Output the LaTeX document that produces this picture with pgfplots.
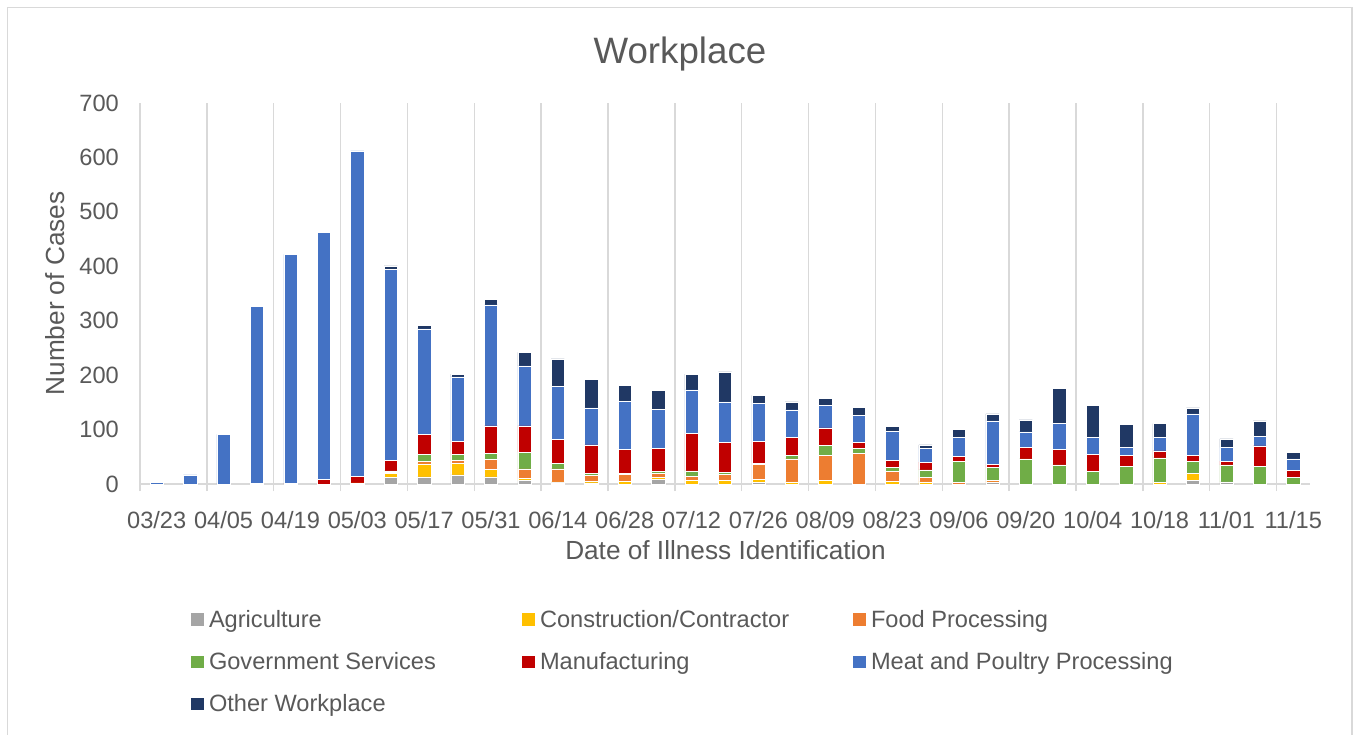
\documentclass[border=0pt]{standalone}
\usepackage{pgfplots}
\pgfplotsset{compat=1.18}
\usepackage{pgfplotstable}
\usepackage{fontspec}
\setmainfont{Liberation Sans}
\definecolor{txt}{HTML}{595959}
\definecolor{grd}{HTML}{D9D9D9}
\definecolor{cAgri}{HTML}{A5A5A5}
\definecolor{cCons}{HTML}{FFC000}
\definecolor{cFood}{HTML}{ED7D31}
\definecolor{cGov}{HTML}{70AD47}
\definecolor{cMfg}{HTML}{C00000}
\definecolor{cMeat}{HTML}{4472C4}
\definecolor{cOther}{HTML}{203864}
\pgfplotstableread{
x agri constr food gov mfg meat other
0 0 0 0 0 0 3 0
1 0 0 0 0 0 17 0
2 0 0 0 0 0 91 0
3 0 0 0 0 1 325 0
4 0 0 0 0 1 421 0
5 0 0 0 0 8 454 0
6 0 2 0 0 12 598 0
7 12 7 2 3 19 351 7
8 13 24 4 13 37 194 7
9 17 21 6 10 25 118 5
10 13 14 18 11 51 222 10
11 6 4 18 30 49 110 25
12 2 2 24 10 44 97 51
13 2 3 11 4 52 68 52
14 0 5 13 2 43 89 29
15 9 3 7 4 42 72 35
16 0 7 7 10 69 80 29
17 0 6 12 4 54 75 55
18 3 6 27 2 40 70 15
19 0 4 42 6 34 50 15
20 0 7 46 18 32 42 13
21 0 0 56 9 12 49 15
22 0 5 18 7 13 54 9
23 0 4 8 14 14 26 6
24 0 0 3 38 10 35 15
25 3 1 2 24 6 80 13
26 0 0 0 46 21 29 22
27 0 0 0 35 29 48 64
28 0 0 0 23 31 32 59
29 0 0 0 32 21 15 42
30 0 3 0 45 13 25 25
31 6 13 0 23 11 76 11
32 4 0 0 31 7 26 15
33 0 0 0 33 37 17 29
34 0 0 0 12 13 21 12
}\data
\newcommand{\lgd}[1]{\makebox[313pt][l]{\rule[-5pt]{0pt}{22pt}#1}}
\begin{document}
\begin{tikzpicture}[x=1pt,y=1pt]
\useasboundingbox (0,0) rectangle (1354,-734);
\fill[white] (0,0) rectangle (1354,-734);
\draw[grd, line width=1.5pt] (7.5,-745) -- (7.5,-7.5) -- (1352,-7.5) -- (1352,-745);
\begin{axis}[
  at={(140pt,-484pt)}, anchor=south west,
  scale only axis, width=1170pt, height=381pt,
  ybar stacked, bar width=13.3pt,
  xmin=-0.5, xmax=34.5, ymin=0, ymax=700,
  ytick={0,100,...,700},
  xtick={0,2,...,34},
  xticklabels={03/23,04/05,04/19,05/03,05/17,05/31,06/14,06/28,07/12,07/26,08/09,08/23,09/06,09/20,10/04,10/18,11/01,11/15},
  tick align=outside,
  major tick length=0pt,
  extra x ticks={-0.5,1.5,...,33.5},
  extra x tick labels={},
  extra x tick style={grid=major, major tick length=7pt, tick style={grd, line width=1.5pt}},
  major grid style={grd, line width=1.5pt},
  axis x line*=bottom, axis y line*=left,
  x axis line style={-, grd, line width=1.5pt},
  y axis line style={draw=none},
  ytick style={draw=none},
  /pgf/number format/assume math mode=true,
  yticklabel style={font=\fontsize{23.6}{28}\selectfont, text=txt, anchor=east, inner sep=0pt, xshift=-21pt},
  xticklabel style={font=\fontsize{23.6}{28}\selectfont, text=txt, anchor=base, inner sep=0pt, yshift=-44.5pt},
  title={Workplace},
  title style={at={(axis description cs:0.4615,1.113)}, anchor=center, font=\fontsize{36.7}{44}\selectfont, text=txt},
  xlabel={Date of Illness Identification},
  xlabel style={at={(axis description cs:0.5004,-0.173)}, anchor=center, font=\fontsize{26.2}{31}\selectfont, text=txt},
  ylabel={Number of Cases},
  ylabel style={at={(axis description cs:-0.0726,0.5)}, anchor=center, rotate=0, font=\fontsize{26.2}{31}\selectfont, text=txt},
  legend columns=3,
  legend cell align=left,
  legend image code/.code={\fill[#1, draw=none] (0pt,-6.35pt) rectangle (12.7pt,6.35pt);},
  legend style={at={(axis description cs:0.0436,-0.332)}, anchor=north west, draw=none, fill=none,
    inner sep=0pt, outer sep=0pt, font=\fontsize{23.6}{28}\selectfont, text=txt,
    /tikz/every odd column/.append style={column sep=5.3pt}, row sep=23.5pt, nodes={inner sep=0pt}},
  every axis plot/.append style={draw=white, line width=0.5pt},
]
\addplot[fill=cAgri] table[x=x,y=agri]{\data};
\addlegendentry{\lgd{Agriculture}}
\addplot[fill=cCons] table[x=x,y=constr]{\data};
\addlegendentry{\lgd{Construction/Contractor}}
\addplot[fill=cFood] table[x=x,y=food]{\data};
\addlegendentry{\lgd{Food Processing}}
\addplot[fill=cGov] table[x=x,y=gov]{\data};
\addlegendentry{\lgd{Government Services}}
\addplot[fill=cMfg] table[x=x,y=mfg]{\data};
\addlegendentry{\lgd{Manufacturing}}
\addplot[fill=cMeat] table[x=x,y=meat]{\data};
\addlegendentry{\lgd{Meat and Poultry Processing}}
\addplot[fill=cOther] table[x=x,y=other]{\data};
\addlegendentry{\lgd{Other Workplace}}
\end{axis}
\end{tikzpicture}
\end{document}
